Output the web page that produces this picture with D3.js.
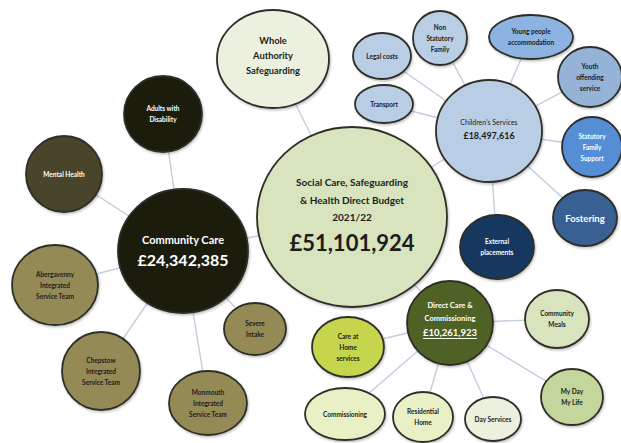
<!DOCTYPE html>
<html>
<head>
<meta charset="utf-8">
<script src="https://cdn.jsdelivr.net/npm/d3@7"></script>
<style>
  body { margin: 0; background: #fff; }
  svg { display: block; }
</style>
</head>
<body>
<div id="chart"></div>
<script>
// budget tree: each bubble, its parent and its text
const nodeIds = ['total', 'whole', 'community', 'children', 'direct',
    'adults', 'mental', 'aberg', 'chep', 'monm', 'severe',
    'legal', 'nonstat', 'young', 'youth', 'statutory', 'fostering', 'external', 'transport',
    'meals', 'myday', 'careathome', 'commissioning', 'residential', 'dayservices'];
const nodeParents = [null, 'total', 'total', 'total', 'total',
    'community', 'community', 'community', 'community', 'community', 'community',
    'children', 'children', 'children', 'children', 'children', 'children', 'children', 'children',
    'direct', 'direct', 'direct', 'direct', 'direct', 'direct'];
const nodeLabels = [
    ['Social Care, Safeguarding', '& Health Direct Budget', '2021/22'],
    ['Whole', 'Authority', 'Safeguarding'],
    ['Community Care'],
    ["Children's Services"],
    ['Direct Care &', 'Commissioning'],
    ['Adults with', 'Disability'],
    ['Mental Health'],
    ['Abergavenny', 'Integrated', 'Service Team'],
    ['Chepstow', 'Integrated', 'Service Team'],
    ['Monmouth', 'Integrated', 'Service Team'],
    ['Severe', 'Intake'],
    ['Legal costs'],
    ['Non', 'Statutory', 'Family'],
    ['Young people', 'accommodation'],
    ['Youth', 'offending', 'service'],
    ['Statutory', 'Family', 'Support'],
    ['Fostering'],
    ['External', 'placements'],
    ['Transport'],
    ['Community', 'Meals'],
    ['My Day', 'My Life'],
    ['Care at', 'Home', 'services'],
    ['Commissioning'],
    ['Residential', 'Home'],
    ['Day Services']
];
const budgetIds = ['total', 'community', 'children', 'direct'];
const budgetValues = ['£51,101,924', '£24,342,385', '£18,497,616', '£10,261,923'];

// layout: centre x, centre y, radius x, radius y
const layout = [
    [352, 217, 95, 90], [273, 59, 56, 49], [183, 251, 65, 62], [489, 131, 53, 51], [450, 323, 43, 42],
    [163, 114, 39, 38], [64, 174, 38, 38], [55, 285, 43, 40], [101, 371, 39, 39], [208, 403, 39, 32], [255, 329, 31, 26],
    [382, 56, 29, 23], [440, 38, 27, 27], [531, 37, 42, 22], [590, 77, 32, 30], [592, 147, 30, 30], [585, 218, 32, 28], [497, 247, 37, 32], [384, 104, 29, 19],
    [557, 319, 32, 29], [572, 397, 31, 28], [348, 347, 36, 30], [345, 414, 40, 26], [423, 417, 30, 25], [493, 419, 28, 22]
];
const fills = ['#d7e4bd', '#ebf1de', '#1d1b10', '#b9cde5', '#4f6228',
    '#1d1b10', '#4a452a', '#948a54', '#948a54', '#948a54', '#948a54',
    '#b9cde5', '#b9cde5', '#8db3e2', '#95b3d7', '#558ed5', '#376092', '#17375e', '#b9cde5',
    '#d7e4bd', '#c3d69b', '#c5d64e', '#e9f0c6', '#e9f0c6', '#ebf1de'];
const lightText = ['community', 'direct', 'adults', 'mental', 'statutory', 'fostering', 'external'];
// font size, line height, budget size, gap before budget, vertical shift, weight
const textStyle = {
    total: [10, 17.5, 22, 25, -5, 'bold'],
    whole: [9.3, 15, 0, 0, -4, 'bold'],
    community: [11, 0, 16, 20, -2, 'bold'],
    children: [7, 0, 9, 13, -2.5, 'normal'],
    direct: [7.5, 13, 9.5, 14, -4, 'bold'],
    fostering: [9.5, 0, 0, 0, 0, 'bold']
};
const defaultStyle = [6.5, 11, 0, 0, 0, 'bold'];

const width = 621;
const height = 443;

const xScale = d3.scaleLinear().domain([0, 621]).range([0, width]);
const yScale = d3.scaleLinear().domain([0, 443]).range([0, height]);
const rScale = d3.scaleLinear().domain([0, 621]).range([0, width]);

const nodes = nodeIds.map((id, i) => ({
    id: id,
    parent: nodeParents[i],
    lines: nodeLabels[i],
    budget: budgetIds.includes(id) ? budgetValues[budgetIds.indexOf(id)] : null,
    cx: layout[i][0], cy: layout[i][1], rx: layout[i][2], ry: layout[i][3],
    fill: fills[i]
}));
const byId = new Map(nodes.map(n => [n.id, n]));
const links = nodes.filter(n => n.parent).map(n => ({ source: byId.get(n.parent), target: n }));

let svg = d3.select('#chart')
    .append('svg')
    .attr('width', width)
    .attr('height', height);

svg.append('defs').append('filter')
    .attr('id', 'shadow')
    .append('feDropShadow')
    .attr('dx', 1).attr('dy', 1.5).attr('stdDeviation', 1.2)
    .attr('flood-color', '#000').attr('flood-opacity', 0.25);

// connectors
svg.selectAll('line.link')
    .data(links)
    .enter()
    .append('line')
    .attr('class', 'link')
    .attr('x1', d => xScale(d.source.cx))
    .attr('y1', d => yScale(d.source.cy))
    .attr('x2', d => xScale(d.target.cx))
    .attr('y2', d => yScale(d.target.cy))
    .attr('stroke', '#c2cedc')
    .attr('stroke-width', 1.4);

let bubble = svg.selectAll('g.node')
    .data(nodes)
    .enter()
    .append('g')
    .attr('class', 'node')
    .attr('transform', d => `translate(${xScale(d.cx)},${yScale(d.cy)})`);

bubble.append('ellipse')
    .attr('rx', d => rScale(d.rx))
    .attr('ry', d => rScale(d.ry))
    .attr('fill', d => d.fill)
    .attr('stroke', '#2e2e28')
    .attr('stroke-width', 1.8)
    .attr('filter', 'url(#shadow)');

bubble.each(function (d) {
    const g = d3.select(this);
    const [fs, lh, bfs, gap, shift, weight] = textStyle[d.id] || defaultStyle;
    const colour = lightText.includes(d.id) ? '#ffffff' : '#1c1c1c';
    const span = (d.lines.length - 1) * lh + (d.budget ? gap : 0);
    let y = -span / 2 + shift;
    d.lines.forEach((line, k) => {
        g.append('text')
            .attr('y', y + k * lh)
            .attr('text-anchor', 'middle')
            .attr('dominant-baseline', 'central')
            .attr('font-family', 'Lato, "Noto Sans", sans-serif')
            .attr('font-weight', weight)
            .attr('font-size', fs)
            .attr('fill', colour)
            .text(line);
    });
    if (d.budget) {
        g.append('text')
            .attr('y', y + (d.lines.length - 1) * lh + gap)
            .attr('text-anchor', 'middle')
            .attr('dominant-baseline', 'central')
            .attr('font-family', 'Lato, "Noto Sans", sans-serif')
            .attr('font-weight', 'bold')
            .attr('font-size', bfs)
            .attr('fill', colour)
            .attr('text-decoration', d.id === 'direct' ? 'underline' : null)
            .text(d.budget);
    }
});
</script>
</body>
</html>
